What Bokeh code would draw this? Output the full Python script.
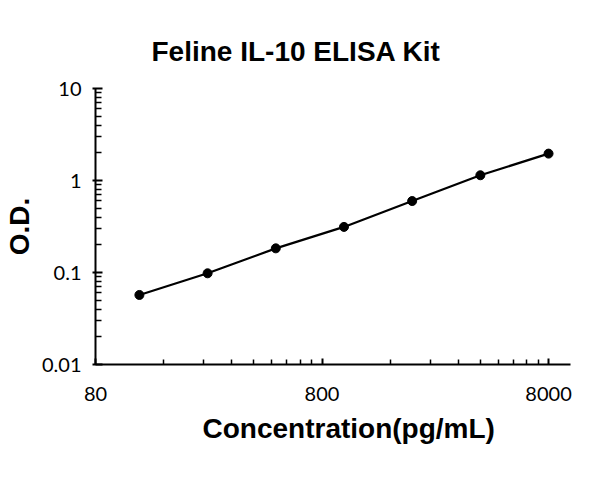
from bokeh.plotting import figure
from bokeh.models import ColumnDataSource, Range1d, FixedTicker, Title, CustomJSTickFormatter
from bokeh.embed import file_html
from bokeh.resources import INLINE

# 标准曲线数据 (浓度 pg/mL, O.D.)
conc = [125, 250, 500, 1000, 2000, 4000, 8000]
od = [0.057, 0.098, 0.183, 0.313, 0.598, 1.14, 1.96]

x_ticks = [80, 800, 8000]
y_ticks = [0.01, 0.1, 1, 10]

source = ColumnDataSource(data=dict(conc=conc, od=od))

p = figure(width=584, height=470, x_axis_type="log", y_axis_type="log",
           x_range=Range1d(80, 10000), y_range=Range1d(0.01, 10),
           output_backend="svg", toolbar_location=None,
           min_border_left=94, min_border_right=14,
           min_border_top=88, min_border_bottom=106)

p.title.text = "Feline IL-10 ELISA Kit"
p.title.text_font = "Liberation Sans"
p.title.text_font_style = "bold"
p.title.text_font_size = "28px"
p.title.text_color = "black"
p.title.align = "left"
p.title.offset = 56
p.title.standoff = 44

p.outline_line_color = None
p.xgrid.visible = False
p.ygrid.visible = False

# 曲线和数据点
p.line("conc", "od", source=source, line_width=2.2, color="black")
p.scatter("conc", "od", source=source, size=9, color="black")

# 刻度
x_minor = [m * t for t in x_ticks[:-1] for m in range(2, 10)]
y_minor = [m * t for t in y_ticks[:-1] for m in range(2, 10)]
p.xaxis.ticker = FixedTicker(ticks=x_ticks, minor_ticks=x_minor)
p.yaxis.ticker = FixedTicker(ticks=y_ticks, minor_ticks=y_minor)
p.xaxis.formatter = CustomJSTickFormatter(code="return tick.toString()")
p.yaxis.formatter = CustomJSTickFormatter(code="return tick.toString()")

for ax in (p.xaxis, p.yaxis):
    ax.axis_line_width = 2
    ax.axis_line_color = "black"
    ax.major_tick_line_width = 2
    ax.minor_tick_line_width = 1.5
    ax.major_tick_line_color = "black"
    ax.minor_tick_line_color = "black"
    ax.major_label_text_font = "Lato"
    ax.major_label_text_font_size = "20px"
    ax.major_label_text_color = "black"

p.xaxis.major_tick_in = 6
p.xaxis.major_tick_out = 0
p.xaxis.minor_tick_in = 5
p.xaxis.minor_tick_out = 0
p.xaxis.major_label_standoff = 22

p.yaxis.major_tick_in = 7
p.yaxis.major_tick_out = 3
p.yaxis.minor_tick_in = 6
p.yaxis.minor_tick_out = 0
p.yaxis.major_label_standoff = 11

p.yaxis.axis_label = "O.D."
p.yaxis.axis_label_text_font = "Liberation Sans"
p.yaxis.axis_label_text_font_style = "bold"
p.yaxis.axis_label_text_font_size = "28px"
p.yaxis.axis_label_text_color = "black"
p.yaxis.axis_label_standoff = 4

# x 轴标题 (略偏右)
xlab = Title(text="Concentration(pg/mL)", align="left", offset=107,
             text_font="Liberation Sans", text_font_style="bold",
             text_font_size="28px", text_color="black", standoff=15)
p.add_layout(xlab, "below")

open("out.html", "w").write(file_html(p, INLINE))
